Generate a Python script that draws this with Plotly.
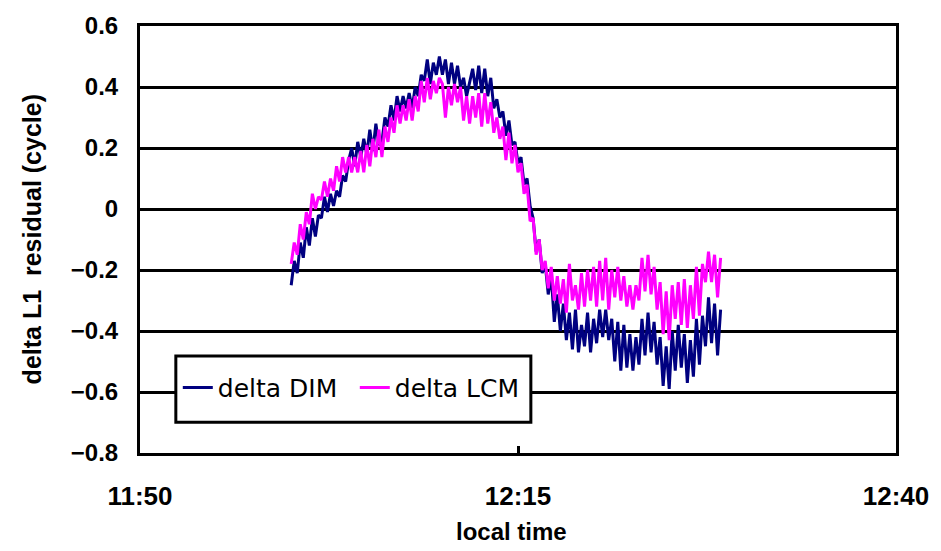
import numpy as np
import plotly.graph_objects as go

# Sampling: minutes after 11:50 local time
start_min = 10.0
step_min = 0.2

# delta L1 residual (cycle), one value per sample
delta_dim = [
    -0.25, -0.17, -0.21, -0.11, -0.16, -0.06, -0.12, -0.03, -0.09, -0.02,
    -0.03, 0.04, -0.01, 0.05, 0.01, 0.06, 0.04, 0.11, 0.09, 0.16,
    0.20, 0.14, 0.22, 0.17, 0.23, 0.18, 0.26, 0.19, 0.28, 0.21,
    0.22, 0.30, 0.27, 0.34, 0.29, 0.37, 0.32, 0.37, 0.33, 0.38,
    0.33, 0.40, 0.37, 0.44, 0.42, 0.49, 0.41, 0.48, 0.44, 0.50,
    0.44, 0.49, 0.41, 0.48, 0.41, 0.47, 0.40, 0.43, 0.37, 0.42,
    0.46, 0.39, 0.47, 0.38, 0.46, 0.37, 0.43, 0.33, 0.36, 0.30,
    0.32, 0.24, 0.29, 0.21, 0.22, 0.15, 0.17, 0.08, 0.10, 0.01,
    -0.03, -0.14, -0.10, -0.21, -0.18, -0.28, -0.22, -0.37, -0.28, -0.40,
    -0.31, -0.43, -0.34, -0.46, -0.33, -0.47, -0.38, -0.45, -0.34, -0.47,
    -0.36, -0.44, -0.33, -0.42, -0.33, -0.43, -0.36, -0.50, -0.37, -0.53,
    -0.38, -0.52, -0.41, -0.53, -0.42, -0.51, -0.36, -0.48, -0.34, -0.47,
    -0.37, -0.51, -0.42, -0.58, -0.45, -0.59, -0.40, -0.53, -0.38, -0.52,
    -0.41, -0.57, -0.43, -0.55, -0.36, -0.51, -0.35, -0.45, -0.29, -0.44,
    -0.31, -0.48, -0.33,
]

delta_lcm = [
    -0.18, -0.11, -0.15, -0.05, -0.10, -0.01, -0.05, 0.05, 0.00, 0.04,
    0.03, 0.09, 0.04, 0.10, 0.06, 0.14, 0.09, 0.17, 0.12, 0.17,
    0.12, 0.17, 0.12, 0.19, 0.12, 0.21, 0.14, 0.23, 0.17, 0.26,
    0.17, 0.27, 0.22, 0.30, 0.25, 0.34, 0.28, 0.34, 0.29, 0.36,
    0.29, 0.37, 0.32, 0.42, 0.35, 0.43, 0.36, 0.42, 0.38, 0.43,
    0.41, 0.30, 0.40, 0.34, 0.41, 0.35, 0.40, 0.29, 0.37, 0.28,
    0.37, 0.30, 0.38, 0.27, 0.38, 0.28, 0.35, 0.25, 0.30, 0.23,
    0.27, 0.16, 0.25, 0.15, 0.21, 0.12, 0.15, 0.05, 0.08, -0.04,
    -0.03, -0.15, -0.10, -0.20, -0.17, -0.26, -0.19, -0.30, -0.22, -0.31,
    -0.23, -0.34, -0.18, -0.30, -0.25, -0.33, -0.21, -0.32, -0.20, -0.30,
    -0.19, -0.32, -0.17, -0.30, -0.16, -0.33, -0.20, -0.29, -0.19, -0.30,
    -0.22, -0.32, -0.25, -0.33, -0.25, -0.30, -0.16, -0.27, -0.15, -0.28,
    -0.19, -0.33, -0.24, -0.41, -0.27, -0.43, -0.25, -0.36, -0.24, -0.38,
    -0.23, -0.39, -0.25, -0.36, -0.19, -0.35, -0.18, -0.24, -0.14, -0.24,
    -0.15, -0.29, -0.16,
]

series_names = ["delta DIM", "delta LCM"]
series_colors = ["#000080", "#FF00FF"]

x_tick_vals = [0, 25, 50]
x_tick_text = ["11:50", "12:15", "12:40"]
y_tick_vals = [0.6, 0.4, 0.2, 0, -0.2, -0.4, -0.6, -0.8]
y_tick_text = ["0.6", "0.4", "0.2", "0", "\u22120.2", "\u22120.4", "\u22120.6", "\u22120.8"]

times = start_min + step_min * np.arange(len(delta_dim))

fig = go.Figure()
for name, vals, color in zip(series_names, [delta_dim, delta_lcm], series_colors):
    fig.add_trace(go.Scatter(
        x=times, y=vals, mode="lines", name=name,
        line=dict(color=color, width=3, shape="linear"),
    ))

bold = "Liberation Sans, Arial, sans-serif"

fig.update_layout(
    width=941, height=551,
    margin=dict(l=140, r=41, t=21, b=98),
    paper_bgcolor="white", plot_bgcolor="white",
    showlegend=True,
    legend=dict(
        orientation="h", x=0.05, y=0.153, xanchor="left", yanchor="middle",
        bgcolor="rgba(0,0,0,0)", borderwidth=0,
        font=dict(family="DejaVu Sans, sans-serif", size=25, color="black"),
        entrywidth=132, itemwidth=30,
    ),
    xaxis=dict(
        range=[0, 50], tickmode="array", tickvals=x_tick_vals, ticktext=x_tick_text,
        showgrid=False, zeroline=False,
        showline=True, linecolor="black", linewidth=3, mirror=True,
        ticks="inside", ticklen=7, tickwidth=3, tickcolor="black",
        tickfont=dict(family=bold, size=26, color="black", weight="bold"),
        ticklabelstandoff=18, ticklabeloverflow="allow",
    ),
    yaxis=dict(
        range=[-0.8, 0.6], tickmode="array", tickvals=y_tick_vals, ticktext=y_tick_text,
        showgrid=True, gridcolor="black", gridwidth=3, zeroline=False,
        showline=True, linecolor="black", linewidth=3, mirror=True,
        ticks="", tickfont=dict(family=bold, size=24, color="black", weight="bold"),
        ticklabelstandoff=14, ticklabeloverflow="allow",
    ),
    shapes=[dict(
        type="rect", xref="paper", yref="paper",
        x0=0.0474, x1=0.517, y0=0.0718, y1=0.2269,
        line=dict(color="black", width=3), fillcolor="white", layer="above",
    )],
    annotations=[
        dict(text="local time", xref="paper", yref="paper", x=0.492, y=-0.185,
             xanchor="center", yanchor="middle", showarrow=False,
             font=dict(family=bold, size=24, color="black", weight="bold")),
        dict(text="delta L1  residual (cycle)", xref="paper", yref="paper",
             x=-0.143, y=0.50, xanchor="center", yanchor="middle", textangle=-90,
             showarrow=False,
             font=dict(family=bold, size=25, color="black", weight="bold")),
    ],
)

fig.write_html("out.html")
